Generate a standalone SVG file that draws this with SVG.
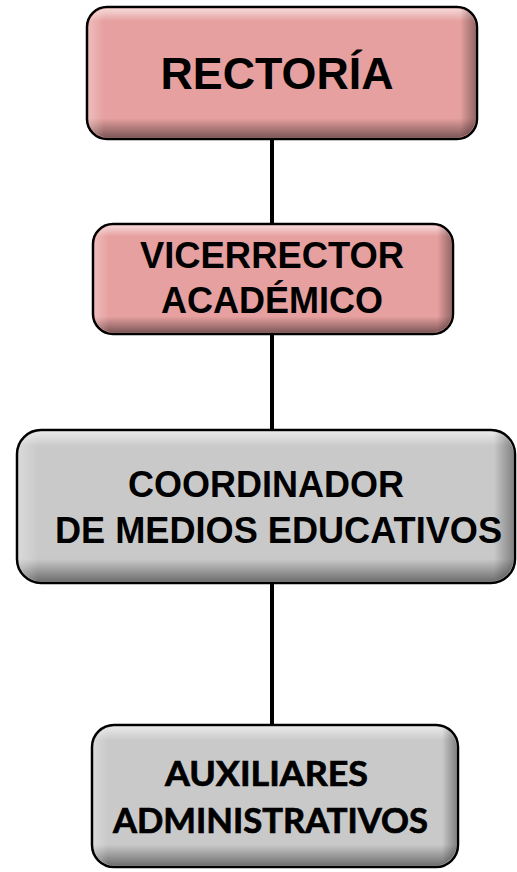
<svg xmlns="http://www.w3.org/2000/svg" width="517" height="872" viewBox="0 0 517 872">
<defs>
<linearGradient id="vshade" x1="0" y1="0" x2="0" y2="1">
<stop offset="0" stop-color="#fff" stop-opacity="0.6"/>
<stop offset="0.1" stop-color="#fff" stop-opacity="0"/>
<stop offset="0.85" stop-color="#000" stop-opacity="0"/>
<stop offset="1" stop-color="#000" stop-opacity="0.45"/>
</linearGradient>
<linearGradient id="hshade" x1="0" y1="0" x2="1" y2="0">
<stop offset="0" stop-color="#fff" stop-opacity="0.3"/>
<stop offset="0.04" stop-color="#fff" stop-opacity="0"/>
<stop offset="0.96" stop-color="#000" stop-opacity="0"/>
<stop offset="1" stop-color="#000" stop-opacity="0.35"/>
</linearGradient>
<style>
.pink{fill:#E6A09F;stroke:#000;stroke-width:2.5}
.gray{fill:#C9C9C9;stroke:#000;stroke-width:2.5}
.vs{fill:url(#vshade);stroke:none}
.hs{fill:url(#hshade);stroke:none}
.t{font-family:"Liberation Sans",Arial,sans-serif;font-weight:bold;fill:#000;text-anchor:middle}
.c{font-family:Lato,"Open Sans",sans-serif;font-weight:bold;fill:#000;stroke:#000;stroke-width:0.7;text-anchor:middle}
.conn{stroke:#000;stroke-width:4;fill:none}
</style>
</defs>
<g id="connectors">
<line class="conn" x1="272" y1="138" x2="272" y2="226"/>
<line class="conn" x1="272" y1="333" x2="272" y2="431"/>
<line class="conn" x1="272" y1="582" x2="272" y2="726"/>
</g>
<g id="rectoria">
<rect class="pink" x="87" y="7" width="390" height="132" rx="20"/>
<rect class="vs" x="88.5" y="8.5" width="387" height="129" rx="19"/>
<rect class="hs" x="88.5" y="8.5" width="387" height="129" rx="19"/>
<text class="t" x="277" y="89" font-size="45" textLength="233" lengthAdjust="spacingAndGlyphs">RECTORÍA</text>
</g>
<g id="vicerrector">
<rect class="pink" x="93" y="224" width="360" height="110" rx="20"/>
<rect class="vs" x="94.5" y="225.5" width="357" height="107" rx="19"/>
<rect class="hs" x="94.5" y="225.5" width="357" height="107" rx="19"/>
<text class="t" x="272" y="268" font-size="36" textLength="264" lengthAdjust="spacingAndGlyphs">VICERRECTOR</text>
<text class="t" x="272" y="313" font-size="36">ACADÉMICO</text>
</g>
<g id="coordinador">
<rect class="gray" x="17" y="430" width="498" height="153" rx="24"/>
<rect class="vs" x="18.5" y="431.5" width="495" height="150" rx="23"/>
<rect class="hs" x="18.5" y="431.5" width="495" height="150" rx="23"/>
<text class="t" x="266" y="497" font-size="36">COORDINADOR</text>
<text class="t" x="278.5" y="543" font-size="36" textLength="447" lengthAdjust="spacingAndGlyphs">DE MEDIOS EDUCATIVOS</text>
</g>
<g id="auxiliares">
<rect class="gray" x="92" y="725" width="366" height="142" rx="22"/>
<rect class="vs" x="93.5" y="726.5" width="363" height="139" rx="21"/>
<rect class="hs" x="93.5" y="726.5" width="363" height="139" rx="21"/>
<text class="c" x="266.5" y="786" font-size="34" textLength="203" lengthAdjust="spacingAndGlyphs">AUXILIARES</text>
<text class="c" x="270.5" y="833" font-size="34" textLength="315" lengthAdjust="spacingAndGlyphs">ADMINISTRATIVOS</text>
</g>
</svg>
